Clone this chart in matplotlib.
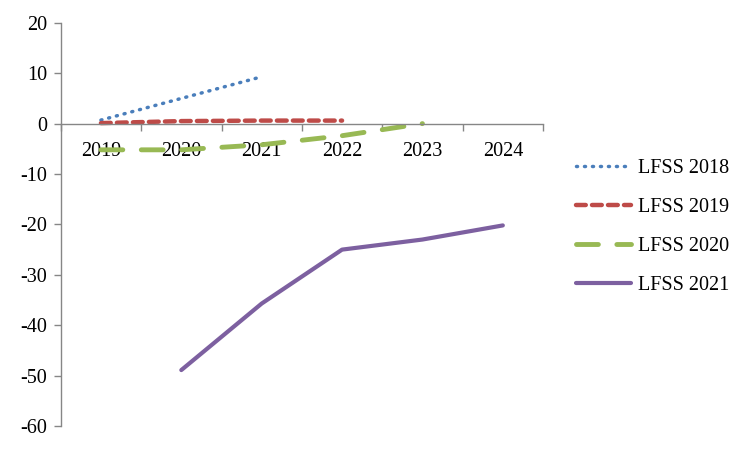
import matplotlib
matplotlib.use("Agg")
import matplotlib.pyplot as plt
from matplotlib.ticker import FixedLocator

plt.rcParams['font.family'] = ['Liberation Serif', 'DejaVu Serif']
plt.rcParams['axes.unicode_minus'] = False

years = ["2019", "2020", "2021", "2022", "2023", "2024"]
lfss2018 = [0.7, 5.0, 9.3]
lfss2019 = [0.1, 0.5, 0.6, 0.6]
lfss2020 = [-5.2, -5.2, -4.2, -2.4, 0.0]
lfss2021 = [-48.9, -35.7, -25.0, -23.0, -20.2]
idx2021_start = 1

fig = plt.figure(figsize=(7.5, 4.5), dpi=100)
ax = fig.add_axes([0.081, 0.0533, 0.643, 0.896])

x = list(range(len(years)))
l1, = ax.plot(x[:len(lfss2018)], lfss2018, color='#4a7ebb', lw=2.5,
              linestyle=(0, (0.3, 2.0)), dash_capstyle='round', label='LFSS 2018')
l2, = ax.plot(x[:len(lfss2019)], lfss2019, color='#be4b48', lw=3.2,
              linestyle=(0, (2.2, 1.4)), dash_capstyle='round', label='LFSS 2019')
l3, = ax.plot(x[:len(lfss2020)], lfss2020, color='#98b954', lw=3.5,
              linestyle=(0, (4.5, 3.8)), dash_capstyle='round', label='LFSS 2020')
l4, = ax.plot(x[idx2021_start:idx2021_start + len(lfss2021)], lfss2021,
              color='#7d60a0', lw=3.0, solid_capstyle='round', label='LFSS 2021')

ax.set_xlim(-0.5, len(years) - 0.5)
ax.set_ylim(-60, 20)
ax.set_yticks(range(-60, 21, 10))
ax.spines['top'].set_visible(False)
ax.spines['right'].set_visible(False)
ax.spines['bottom'].set_position(('data', 0))
for s in ('left', 'bottom'):
    ax.spines[s].set_color('#868686')
    ax.spines[s].set_linewidth(1.0)

ax.xaxis.set_major_locator(FixedLocator([i - 0.5 for i in range(len(years) + 1)]))
ax.xaxis.set_minor_locator(FixedLocator(x))
ax.set_xticklabels([], minor=False)
ax.set_xticklabels(years, minor=True)
ax.tick_params(axis='x', which='major', direction='out', length=5, color='#868686', width=1)
ax.tick_params(axis='x', which='minor', length=0, pad=13, labelsize=14.5)
ax.tick_params(axis='y', direction='out', length=5, color='#868686', width=1,
               labelsize=14.5, pad=5)

fig.legend(handles=[l1, l2, l3, l4], loc='center left',
           bbox_to_anchor=(0.744, 0.496), frameon=False, fontsize=14.5,
           handlelength=2.7, handletextpad=0.35, labelspacing=0.98)

fig.savefig('out.png', dpi=100)
